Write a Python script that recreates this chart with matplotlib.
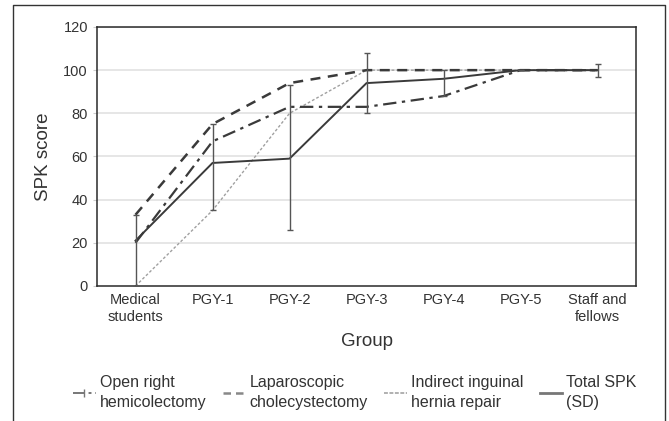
import matplotlib.pyplot as plt
import numpy as np
from matplotlib.lines import Line2D

plt.rcParams['font.family'] = ['Liberation Sans', 'DejaVu Sans']

groups = ['Medical\nstudents', 'PGY-1', 'PGY-2', 'PGY-3', 'PGY-4', 'PGY-5', 'Staff and\nfellows']
open_right = [20, 67, 83, 83, 88, 100, 100]
lap_chole = [33, 75, 94, 100, 100, 100, 100]
hernia = [0, 35, 80, 100, 100, 100, 100]
total = [21, 57, 59, 94, 96, 100, 100]
total_low = [0, 35, 26, 80, 88, 100, 97]
total_high = [33, 75, 93, 108, 100, 100, 103]

x = np.arange(len(groups))

fig = plt.figure(figsize=(6.69, 4.21), dpi=100)
ax = fig.add_axes([0.145, 0.3207, 0.8057, 0.6152])

# outer frame of the figure box (open at the bottom)
fig.add_artist(Line2D([13/669, 13/669, 665/669, 665/669], [0, 1-5/421, 1-5/421, 0],
                      transform=fig.transFigure, color='#333333', lw=1))

for yv in range(20, 121, 20):
    ax.axhline(yv, color='#e2e2e2', lw=1.2, zorder=0)

dark = '#3a3a3a'
ax.plot(x, hernia, color='#a0a0a0', lw=1.0, ls=(0, (2, 1.5)), zorder=2)
ax.plot(x, open_right, color=dark, lw=1.6, ls=(0, (6, 2.5, 1.5, 2.5)), zorder=3)
ax.plot(x, lap_chole, color=dark, lw=1.8, ls=(0, (4, 3)), zorder=3)
ax.plot(x, total, color=dark, lw=1.4, zorder=4)

tot = np.array(total)
yerr = [tot - np.array(total_low), np.array(total_high) - tot]
ax.errorbar(x, total, yerr=yerr, fmt='none', ecolor='#555555', elinewidth=1.0,
            capsize=2, zorder=4)

ax.set_xlim(-0.5, len(groups) - 0.5)
ax.set_ylim(0, 120)
ax.set_yticks(range(0, 121, 20))
ax.set_xticks(x)
ax.set_xticklabels(groups, fontsize=10.5, color='#333333', linespacing=1.3)
ax.tick_params(axis='y', labelsize=10.5, labelcolor='#333333', length=3, color='#cccccc')
ax.tick_params(axis='x', length=0, pad=5)
for s in ax.spines.values():
    s.set_color('#2a2a2a')
    s.set_linewidth(1.1)

ax.set_ylabel('SPK score', fontsize=13.5, color='#333333', labelpad=8)
ax.set_xlabel('Group', fontsize=13.5, color='#333333', labelpad=6)

handles = [
    Line2D([], [], color='#777777', lw=1.4, ls=(0, (6, 2, 1.5, 2)), marker='|', markersize=6),
    Line2D([], [], color='#888888', lw=1.8, ls=(0, (3, 2))),
    Line2D([], [], color='#b0b0b0', lw=1.4, ls=(0, (2, 0.8))),
    Line2D([], [], color='#777777', lw=2.0),
]
labels = ['Open right\nhemicolectomy', 'Laparoscopic\ncholecystectomy',
          'Indirect inguinal\nhernia repair', 'Total SPK\n(SD)']
leg = fig.legend(handles, labels, ncol=4, loc='upper left', bbox_to_anchor=(0.088, 0.143),
                 frameon=False, fontsize=11.5, handlelength=1.4, handletextpad=0.25,
                 columnspacing=1.05, labelcolor='#333333')
for t in leg.get_texts():
    t.set_linespacing(1.4)

plt.savefig('out.png', dpi=100)
